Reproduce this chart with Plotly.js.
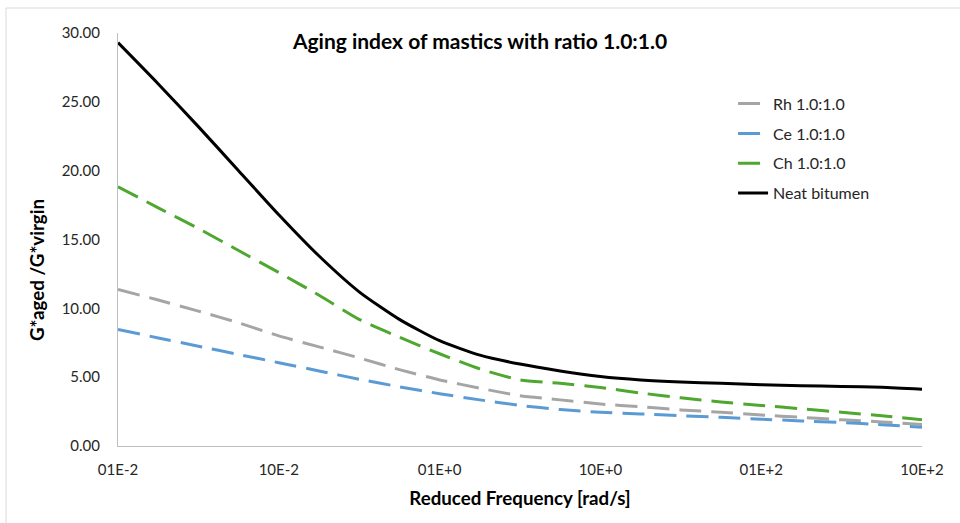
<!DOCTYPE html>
<html>
<head>
<meta charset="utf-8">
<script src="https://cdn.plot.ly/plotly-3.0.1.min.js"></script>
<style>html,body{margin:0;padding:0;background:#fff;}#chart{width:960px;height:523px;}</style>
</head>
<body>
<div id="chart"></div>
<script>
// Reduced frequency [rad/s]
const freq = [0.01, 0.0178, 0.0316, 0.0562, 0.1, 0.178, 0.316, 0.562, 1, 1.78, 3.16, 5.62, 10, 17.8, 31.6, 56.2, 100, 178, 316, 562, 1000];
// Aging index series
const rh   = [11.38, 10.6, 9.8, 8.95, 8.0, 7.2, 6.4, 5.55, 4.8, 4.2, 3.65, 3.35, 3.05, 2.85, 2.62, 2.45, 2.25, 2.08, 1.9, 1.75, 1.57];
const ce   = [8.47, 7.85, 7.25, 6.65, 6.05, 5.45, 4.85, 4.3, 3.8, 3.35, 2.95, 2.65, 2.45, 2.33, 2.2, 2.08, 1.95, 1.82, 1.7, 1.55, 1.37];
const ch   = [18.83, 17.3, 15.8, 14.2, 12.6, 10.95, 9.2, 7.9, 6.7, 5.6, 4.8, 4.55, 4.25, 3.85, 3.5, 3.2, 2.95, 2.7, 2.45, 2.2, 1.9];
const neat = [29.3, 26.3, 23.2, 20.0, 16.8, 13.8, 11.2, 9.2, 7.65, 6.6, 5.95, 5.45, 5.05, 4.8, 4.65, 4.55, 4.45, 4.38, 4.33, 4.27, 4.13];
const seriesNames = ["Rh 1.0:1.0", "Ce 1.0:1.0", "Ch 1.0:1.0", "Neat bitumen"];
const tickVals = [0.01, 0.1, 1, 10, 100, 1000];
const tickText = ["01E-2", "10E-2", "01E+0", "10E+0", "01E+2", "10E+2"];

const FONT = "Lato, 'Open Sans', sans-serif";
function tr(y, name, color, dash, g) {
  return {x: freq, y: y, name: name, type: 'scatter', mode: 'lines', legendgroup: g,
          line: {color: color, width: 3, dash: dash, shape: 'spline', smoothing: 0.6}};
}
const data = [
  tr(rh, seriesNames[0], '#A5A5A5', '22px,10px', 'a'),
  tr(ce, seriesNames[1], '#5B9BD5', '22px,10px', 'b'),
  tr(ch, seriesNames[2], '#4EA72E', '22px,10px', 'c'),
  tr(neat, seriesNames[3], '#000000', 'solid', 'd')
];
const layout = {
  width: 960, height: 523,
  margin: {l: 118, r: 38, t: 33, b: 77},
  paper_bgcolor: '#fff', plot_bgcolor: '#fff',
  font: {family: FONT, size: 15, color: '#262626'},
  title: {text: '<b>Aging index of mastics with ratio 1.0:1.0</b>', x: 0.5, xref: 'container', y: 0.92, yref: 'container', yanchor: 'middle',
          font: {family: FONT, size: 21, color: '#000'}},
  xaxis: {type: 'log', range: [-2, 3], tickvals: tickVals, ticktext: tickText, showgrid: false, zeroline: false,
          showline: true, linecolor: '#BFBFBF', linewidth: 1, ticks: '', ticklabelstandoff: 10,
          title: {text: '<b>Reduced Frequency [rad/s]</b>', font: {family: FONT, size: 18.7, color: '#000'}, standoff: 14}},
  yaxis: {range: [0, 30], dtick: 5, tickformat: '.2f', showgrid: false, zeroline: false,
          showline: true, linecolor: '#BFBFBF', linewidth: 1, ticks: '', ticklabelstandoff: 14},
  annotations: [
    {text: '<b>G*aged /G*virgin</b>', textangle: -90, xref: 'paper', yref: 'paper', x: -0.1007, y: 0.426,
     xanchor: 'center', yanchor: 'middle', showarrow: false, font: {family: FONT, size: 18.7, color: '#000'}}
  ],
  legend: {x: 0.765, y: 0.87, xanchor: 'left', yanchor: 'top', bgcolor: 'rgba(0,0,0,0)',
           traceorder: 'grouped', tracegroupgap: 6, font: {family: FONT, size: 16, color: '#262626'}},
  showlegend: true,
  shapes: [
    {type: 'line', xref: 'paper', yref: 'paper', x0: -0.1393, x1: -0.1393, y0: 1.0605, y1: -0.3, line: {color: '#D9D9D9', width: 1}},
    {type: 'line', xref: 'paper', yref: 'paper', x0: -0.1393, x1: 1.2, y0: 1.0605, y1: 1.0605, line: {color: '#D9D9D9', width: 1}}
  ]
};
Plotly.newPlot('chart', data, layout, {displayModeBar: false, staticPlot: true});
</script>
</body>
</html>
